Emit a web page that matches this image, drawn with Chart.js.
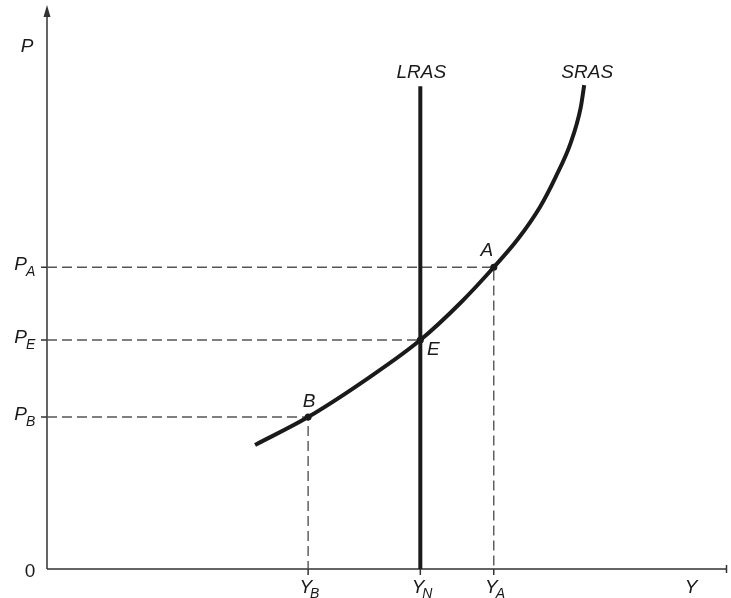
<!DOCTYPE html>
<html>
<head>
<meta charset="utf-8">
<script src="https://cdn.jsdelivr.net/npm/chart.js@4.4.0/dist/chart.umd.min.js"></script>
<style>
  body { margin: 0; background: #fff; }
</style>
</head>
<body>
<canvas id="asChart" width="731" height="598"></canvas>
<script>
// SRAS curve (x = output Y, y = price level P)
var srasX = [30.6, 38.4, 47.3, 54.9, 60.9, 65.7, 69.25, 72.5, 74.8, 77.0, 78.5, 79.0];
var srasY = [22.0, 26.95, 33.9, 40.6, 47.3, 53.5, 58.5, 64.2, 69.5, 75.5, 81.9, 85.8];

// LRAS sits at natural output
var yN = 54.9;
var lrasTop = 85.6;

// marked points B, E, A
var pointNames = ['B', 'E', 'A'];
var pointX = [38.4, 54.9, 65.7];
var pointY = [26.95, 40.6, 53.5];

// axis labels (main letter + subscript)
var xTickSubs = ['B', 'N', 'A'];
var xTickVals = [38.4, 54.9, 65.7];
var yTickSubs = ['B', 'E', 'A'];
var yTickVals = [26.95, 40.6, 53.5];

var ink = '#1a1a1a';
var gray = '#555';
var font = 'italic 19px "Liberation Sans", Arial, sans-serif';
var subFont = 'italic 14px "Liberation Sans", Arial, sans-serif';

function xy(xs, ys) {
    return xs.map(function (v, i) { return { x: v, y: ys[i] }; });
}

// dashed guide from the P axis to each point and down to the Y axis
var guides = pointX.map(function (px, i) {
    return {
        data: [{ x: 0, y: pointY[i] }, { x: px, y: pointY[i] }, { x: px, y: 0 }],
        showLine: true,
        borderColor: gray,
        borderWidth: 1.4,
        borderDash: [10, 5],
        pointRadius: 0,
        fill: false
    };
});

var axesPlugin = {
    id: 'axes',
    beforeDatasetsDraw: function (chart) {
        var c = chart.ctx, xs = chart.scales.x, ys = chart.scales.y;
        var x0 = xs.getPixelForValue(0), y0 = ys.getPixelForValue(0);
        c.save();
        c.strokeStyle = '#333';
        c.lineWidth = 1.5;
        c.beginPath();
        c.moveTo(x0, y0);
        c.lineTo(xs.right, y0);
        c.moveTo(x0, y0);
        c.lineTo(x0, ys.top + 8);
        // end tick on the Y axis
        c.moveTo(xs.right - 0.5, y0 - 4);
        c.lineTo(xs.right - 0.5, y0 + 4);
        // tick marks
        yTickVals.forEach(function (v) {
            var p = ys.getPixelForValue(v);
            c.moveTo(x0 - 6, p);
            c.lineTo(x0, p);
        });
        xTickVals.forEach(function (v) {
            var p = xs.getPixelForValue(v);
            c.moveTo(p, y0);
            c.lineTo(p, y0 + 6);
        });
        c.stroke();
        // arrow head
        c.fillStyle = '#333';
        c.beginPath();
        c.moveTo(x0, ys.top);
        c.lineTo(x0 - 3.5, ys.top + 12);
        c.lineTo(x0 + 3.5, ys.top + 12);
        c.closePath();
        c.fill();
        c.restore();
    },
    afterDraw: function (chart) {
        var c = chart.ctx, xs = chart.scales.x, ys = chart.scales.y;
        var x0 = xs.getPixelForValue(0), y0 = ys.getPixelForValue(0);
        c.save();
        c.fillStyle = ink;
        c.textBaseline = 'alphabetic';

        c.font = font;
        c.textAlign = 'center';
        c.fillText('P', 27, 52);
        c.fillText('Y', 691, 593);
        c.fillText('LRAS', xs.getPixelForValue(yN) + 1, 78);
        c.fillText('SRAS', xs.getPixelForValue(srasX[srasX.length - 1]) + 3, 78);

        // point labels
        var offs = [[1, -10], [13, 15], [-7, -11]];
        pointNames.forEach(function (n, i) {
            c.fillText(n, xs.getPixelForValue(pointX[i]) + offs[i][0],
                ys.getPixelForValue(pointY[i]) + offs[i][1]);
        });

        c.font = '19px "Liberation Sans", Arial, sans-serif';
        c.fillText('0', 30, 577);

        // P ticks with subscripts
        yTickVals.forEach(function (v, i) {
            var p = ys.getPixelForValue(v);
            c.font = font;
            c.textAlign = 'right';
            c.fillText('P', x0 - 20, p + 3);
            c.font = subFont;
            c.textAlign = 'left';
            c.fillText(yTickSubs[i], x0 - 21, p + 9);
        });

        // Y ticks with subscripts
        xTickVals.forEach(function (v, i) {
            var p = xs.getPixelForValue(v);
            c.font = font;
            c.textAlign = 'right';
            c.fillText('Y', p + 4, 593);
            c.font = subFont;
            c.textAlign = 'left';
            c.fillText(xTickSubs[i], p + 2, 598);
        });
        c.restore();
    }
};

var ctx = document.getElementById('asChart').getContext('2d');
var myChart = new Chart(ctx, {
    type: 'scatter',
    data: {
        datasets: [
            {
                data: xy(pointX, pointY),
                pointRadius: 3.5,
                pointBackgroundColor: ink,
                pointBorderWidth: 0,
                showLine: false
            },
            {
                data: xy(srasX, srasY),
                showLine: true,
                borderColor: ink,
                borderWidth: 4,
                pointRadius: 0,
                cubicInterpolationMode: 'monotone'
            },
            {
                data: [{ x: yN, y: 0 }, { x: yN, y: lrasTop }],
                showLine: true,
                borderColor: ink,
                borderWidth: 4,
                pointRadius: 0
            }
        ].concat(guides)
    },
    options: {
        responsive: false,
        animation: false,
        layout: { padding: { left: 47, right: 1, top: 5, bottom: 29 } },
        plugins: {
            legend: { display: false },
            tooltip: { enabled: false }
        },
        scales: {
            x: { type: 'linear', min: 0, max: 100, display: false },
            y: { type: 'linear', min: 0, max: 100, display: false }
        }
    },
    plugins: [axesPlugin]
});
</script>
</body>
</html>
